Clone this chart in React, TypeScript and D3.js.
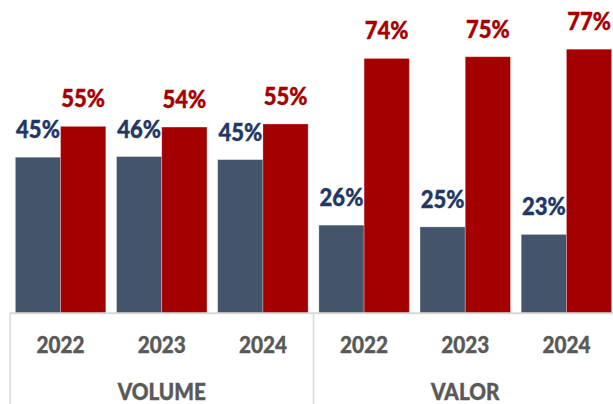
import React from "react";
import * as d3 from "d3";

const categories = ["2022", "2023", "2024", "2022", "2023", "2024"];
const groups = ["VOLUME", "VALOR"];
const groupOf = [0, 0, 0, 1, 1, 1];
const seriesA = [45.5, 45.7, 44.8, 25.7, 25.2, 23.0];
const seriesB = [54.5, 54.3, 55.2, 74.3, 74.8, 77.0];
const labelsA = ["45%", "46%", "45%", "26%", "25%", "23%"];
const labelsB = ["55%", "54%", "55%", "74%", "75%", "77%"];

const W = 613;
const H = 404;
const baseY = 313.3;
const left = 10;
const right = 617;

export default function App() {
  const idx = categories.map((_, i) => String(i));
  const x0 = d3
    .scaleBand<string>()
    .domain(idx)
    .range([left, right])
    .paddingInner(0.106)
    .paddingOuter(0.053);
  const x1 = d3
    .scaleBand<string>()
    .domain(["a", "b"])
    .range([0, x0.bandwidth()])
    .padding(0);
  const y = d3.scaleLinear().domain([0, 100]).range([baseY, baseY - 343]);

  const font = "Lato, 'Open Sans', sans-serif";
  const colA = "#44546A";
  const colB = "#A50000";
  const txtA = "#1F3864";
  const txtB = "#A50000";
  const axisCol = "#D9D9D9";
  const catCol = "#595959";

  const groupBounds = groups.map((g, gi) => {
    const members = idx.filter((_, i) => groupOf[i] === gi);
    const s = x0(members[0])! - (x0.step() - x0.bandwidth()) / 2;
    const e = x0(members[members.length - 1])! + x0.bandwidth() + (x0.step() - x0.bandwidth()) / 2;
    return { g, s, e };
  });

  const label = (text: string, cx: number, by: number, color: string, size: number, sx: number, key: string) => (
    <g key={key} transform={`translate(${cx},${by}) scale(${sx},1)`}>
      <text
        x={0}
        y={0}
        textAnchor="middle"
        fontFamily={font}
        fontWeight={900}
        fontSize={size}
        fill={color}
        stroke={color}
        strokeWidth={0.4}
      >
        {text}
      </text>
    </g>
  );

  return (
    <svg
      width={W}
      height={H}
      viewBox={`0 0 ${W} ${H}`}
      style={{ position: "absolute", left: 0, top: 0, background: "#fff" }}
    >
      {idx.map((k, i) => {
        const gx = x0(k)!;
        const ax = gx + x1("a")!;
        const bx = gx + x1("b")!;
        const bw = x1.bandwidth();
        const ya = y(seriesA[i]);
        const yb = y(seriesB[i]);
        return (
          <g key={k}>
            <rect x={ax} y={ya} width={bw} height={baseY - ya} fill={colA} stroke="#ffffff" strokeOpacity={0.35} strokeWidth={0.8} />
            <rect x={bx} y={yb} width={bw} height={baseY - yb} fill={colB} stroke="#ffffff" strokeOpacity={0.35} strokeWidth={0.8} />
            {label(labelsA[i], ax + bw / 2, ya - 19, txtA, 24.5, 0.9, "la")}
            {label(labelsB[i], bx + bw / 2, yb - 19, txtB, 24.5, 0.9, "lb")}
            {label(categories[i], gx + x0.bandwidth() / 2, 352.7, catCol, 23, 0.9, "c")}
          </g>
        );
      })}
      <line x1={left} x2={W + 10} y1={baseY} y2={baseY} stroke={axisCol} strokeWidth={2} />
      {[left, groupBounds[0].e, right].map((xv, i) => (
        <line key={i} x1={xv} x2={xv} y1={baseY} y2={H} stroke={axisCol} strokeWidth={1.5} />
      ))}
      {groupBounds.map((b) => label(b.g, (b.s + b.e) / 2, 399.5, catCol, 23, 0.9, b.g))}
    </svg>
  );
}
